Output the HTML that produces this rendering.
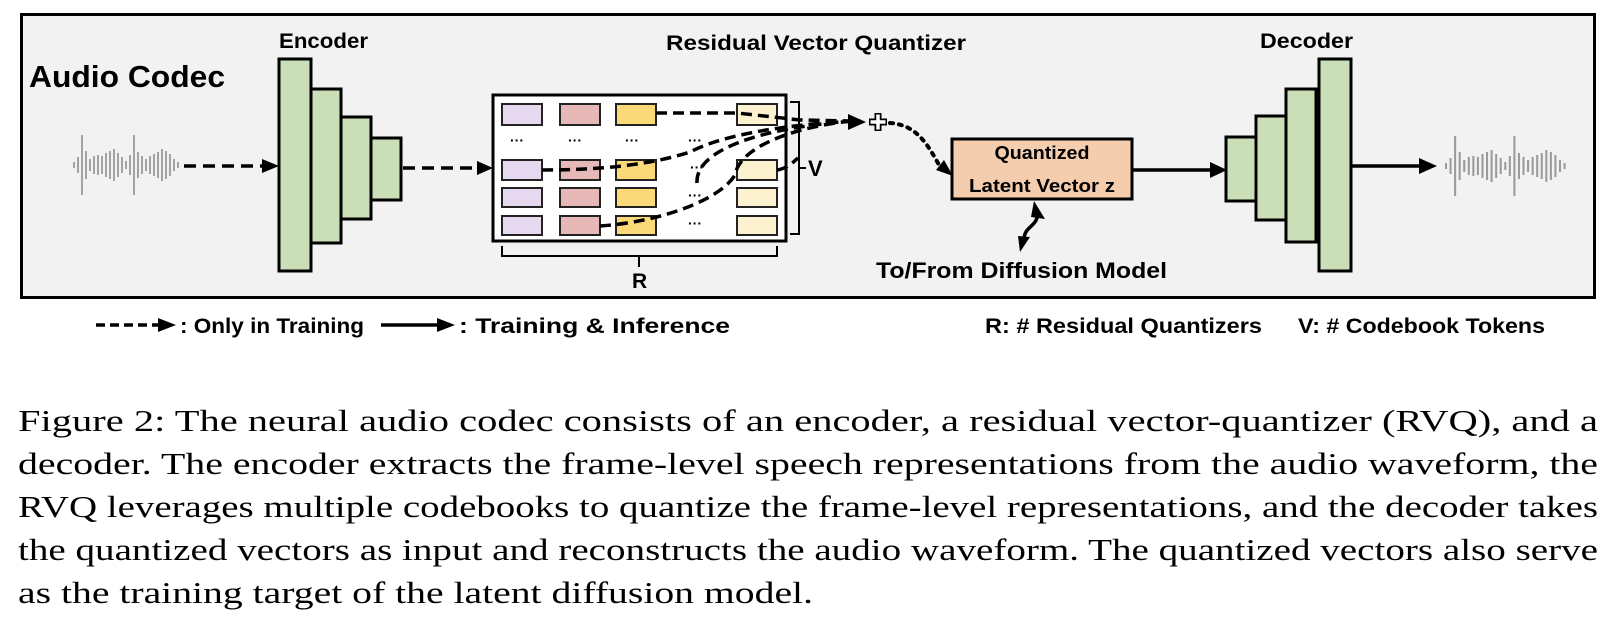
<!DOCTYPE html>
<html><head><meta charset="utf-8"><style>
html,body{margin:0;padding:0;background:#fff;}
body{width:1620px;height:624px;overflow:hidden;position:relative;}
svg{position:absolute;left:0;top:0;}
</style></head><body>
<svg width="1620" height="624" viewBox="0 0 1620 624" xmlns="http://www.w3.org/2000/svg" font-family="Liberation Sans, sans-serif" font-weight="bold">
<defs>
<g id="wave" stroke="#9a9a9a" stroke-width="1.8">
<line x1="0" y1="-3" x2="0" y2="3"/><line x1="4" y1="-8" x2="4" y2="8"/><line x1="8" y1="-30" x2="8" y2="30"/><line x1="12" y1="-14" x2="12" y2="14"/><line x1="16" y1="-6" x2="16" y2="6"/><line x1="20" y1="-9" x2="20" y2="9"/><line x1="24" y1="-10" x2="24" y2="10"/><line x1="28" y1="-9" x2="28" y2="9"/><line x1="32" y1="-12" x2="32" y2="12"/><line x1="36" y1="-14" x2="36" y2="14"/><line x1="40" y1="-16" x2="40" y2="16"/><line x1="44" y1="-12" x2="44" y2="12"/><line x1="48" y1="-8" x2="48" y2="8"/><line x1="52" y1="-4" x2="52" y2="4"/><line x1="56" y1="-10" x2="56" y2="10"/><line x1="60" y1="-30" x2="60" y2="30"/><line x1="64" y1="-13" x2="64" y2="13"/><line x1="68" y1="-9" x2="68" y2="9"/><line x1="72" y1="-6" x2="72" y2="6"/><line x1="76" y1="-9" x2="76" y2="9"/><line x1="80" y1="-11" x2="80" y2="11"/><line x1="84" y1="-13" x2="84" y2="13"/><line x1="88" y1="-16" x2="88" y2="16"/><line x1="92" y1="-14" x2="92" y2="14"/><line x1="96" y1="-11" x2="96" y2="11"/><line x1="100" y1="-6" x2="100" y2="6"/><line x1="104" y1="-3" x2="104" y2="3"/>
</g>
</defs>
<rect x="21.5" y="14.5" width="1573" height="283" fill="#f2f2f2" stroke="#000" stroke-width="3"/>
<text x="29" y="87" font-size="31" textLength="196" lengthAdjust="spacingAndGlyphs">Audio Codec</text>
<text x="279" y="48" font-size="21" textLength="89" lengthAdjust="spacingAndGlyphs">Encoder</text>
<text x="666" y="50" font-size="21" textLength="300" lengthAdjust="spacingAndGlyphs">Residual Vector Quantizer</text>
<text x="1260" y="48" font-size="21" textLength="93" lengthAdjust="spacingAndGlyphs">Decoder</text>
<use href="#wave" x="74" y="165"/>
<g transform="translate(1446 166) scale(1.14 1)"><use href="#wave" x="0" y="0"/></g>
<g fill="#cadfb8" stroke="#000" stroke-width="3">
<rect x="371" y="138" width="30" height="62"/>
<rect x="341" y="117" width="30" height="102"/>
<rect x="311" y="89" width="30" height="154"/>
<rect x="279" y="59" width="32" height="212"/>
<rect x="1226" y="137" width="30" height="64"/>
<rect x="1256" y="116" width="30" height="104"/>
<rect x="1286" y="89" width="30" height="153"/>
<rect x="1319" y="59" width="32" height="212"/>
</g>
<g stroke="#000" stroke-width="3.5" stroke-dasharray="12,7" fill="none">
<line x1="184" y1="166" x2="264" y2="166"/>
<line x1="403" y1="168" x2="478" y2="168"/>
</g>
<polygon points="262,159 279,166 262,173" fill="#000"/>
<polygon points="477,161 493,168 477,175" fill="#000"/>
<rect x="493" y="95" width="293" height="146" fill="#fff" stroke="#000" stroke-width="3"/>
<g stroke="#222" stroke-width="2">
<g fill="#e6d9ef"><rect x="502" y="104" width="40" height="21"/><rect x="502" y="160" width="40" height="20"/><rect x="502" y="188" width="40" height="19"/><rect x="502" y="216" width="40" height="19"/></g>
<g fill="#e6b8b7"><rect x="560" y="104" width="40" height="21"/><rect x="560" y="160" width="40" height="20"/><rect x="560" y="188" width="40" height="19"/><rect x="560" y="216" width="40" height="19"/></g>
<g fill="#f9d978"><rect x="616" y="104" width="40" height="21"/><rect x="616" y="160" width="40" height="20"/><rect x="616" y="188" width="40" height="19"/><rect x="616" y="216" width="40" height="19"/></g>
<g fill="#fdf2d0"><rect x="737" y="104" width="40" height="21"/><rect x="737" y="160" width="40" height="20"/><rect x="737" y="188" width="40" height="19"/><rect x="737" y="216" width="40" height="19"/></g>
</g>
<g font-size="14" fill="#000">
<text x="510" y="145">···</text><text x="568" y="145">···</text><text x="625" y="145">···</text><text x="688" y="145">···</text>
<text x="690" y="172">···</text><text x="688" y="200">···</text><text x="688" y="228">···</text>
</g>
<path d="M790 102 H799 V234 H790 M799 168 H806" fill="none" stroke="#000" stroke-width="2"/>
<text x="808" y="176" font-size="22">V</text>
<path d="M502 246 V256 H777 V246 M639 256 V267" fill="none" stroke="#000" stroke-width="2"/>
<text x="632" y="288" font-size="21">R</text>
<g stroke="#000" stroke-width="3.5" stroke-dasharray="11,6" fill="none">
<path d="M656 113 L737 113 L800 120 L852 121"/>
<path d="M542 170 C600 170 650 165 690 152 C720 136 780 125 852 121"/>
<path d="M697 183 C695 150 760 128 852 121"/>
<path d="M600 226 C660 222 720 200 735 175 C740 145 800 126 852 121"/>
<path d="M777 170 C788 168 792 163 798 158"/>
</g>
<polygon points="848,114 866,122 848,130" fill="#000"/>
<path d="M869 122 H887 M878 113 V131" stroke="#000" stroke-width="7"/>
<path d="M870.5 122 H885.5 M878 114.5 V129.5" stroke="#fff" stroke-width="3.5"/>
<path d="M890 123 C920 125 930 150 942 170" fill="none" stroke="#000" stroke-width="4" stroke-dasharray="3,6" stroke-linecap="round"/>
<polygon points="936,170 953,176 944,160" fill="#000"/>
<rect x="952" y="139" width="180" height="60" fill="#f4ccae" stroke="#000" stroke-width="3"/>
<text x="1042" y="159" font-size="18" text-anchor="middle" textLength="95" lengthAdjust="spacingAndGlyphs">Quantized</text>
<text x="969" y="192" font-size="18" textLength="146" lengthAdjust="spacingAndGlyphs">Latent Vector z</text>
<line x1="1132" y1="170" x2="1212" y2="170" stroke="#000" stroke-width="3.5"/>
<polygon points="1210,162 1227,170 1210,178" fill="#000"/>
<line x1="1351" y1="166" x2="1422" y2="166" stroke="#000" stroke-width="3.5"/>
<polygon points="1419,158 1437,166 1419,174" fill="#000"/>
<path d="M1038 214 C1036 228 1024 226 1024 240" fill="none" stroke="#000" stroke-width="3.5"/>
<polygon points="1034,201 1045,219 1031,217" fill="#000"/>
<polygon points="1018,236 1030,237 1020,252" fill="#000"/>
<text x="876" y="278" font-size="22" textLength="291" lengthAdjust="spacingAndGlyphs">To/From Diffusion Model</text>
<line x1="96" y1="325" x2="160" y2="325" stroke="#000" stroke-width="3.5" stroke-dasharray="9,5"/>
<polygon points="158,318 176,325 158,332" fill="#000"/>
<text x="180" y="333" font-size="21" textLength="184" lengthAdjust="spacingAndGlyphs">: Only in Training</text>
<line x1="381" y1="325" x2="440" y2="325" stroke="#000" stroke-width="3.5"/>
<polygon points="437,318 455,325 437,332" fill="#000"/>
<text x="459" y="333" font-size="21" textLength="271" lengthAdjust="spacingAndGlyphs">: Training &amp; Inference</text>
<text x="985" y="333" font-size="21" textLength="277" lengthAdjust="spacingAndGlyphs">R: # Residual Quantizers</text>
<text x="1298" y="333" font-size="21" textLength="247" lengthAdjust="spacingAndGlyphs">V: # Codebook Tokens</text>
<g font-family="Liberation Serif, serif" font-weight="normal" font-size="31" fill="#000">
<text x="18" y="431" textLength="1580" lengthAdjust="spacingAndGlyphs">Figure 2: The neural audio codec consists of an encoder, a residual vector-quantizer (RVQ), and a</text>
<text x="18" y="474" textLength="1580" lengthAdjust="spacingAndGlyphs">decoder. The encoder extracts the frame-level speech representations from the audio waveform, the</text>
<text x="18" y="517" textLength="1580" lengthAdjust="spacingAndGlyphs">RVQ leverages multiple codebooks to quantize the frame-level representations, and the decoder takes</text>
<text x="18" y="560" textLength="1580" lengthAdjust="spacingAndGlyphs">the quantized vectors as input and reconstructs the audio waveform. The quantized vectors also serve</text>
<text x="18" y="603" textLength="795" lengthAdjust="spacingAndGlyphs">as the training target of the latent diffusion model.</text>
</g>
</svg>
</body></html>
